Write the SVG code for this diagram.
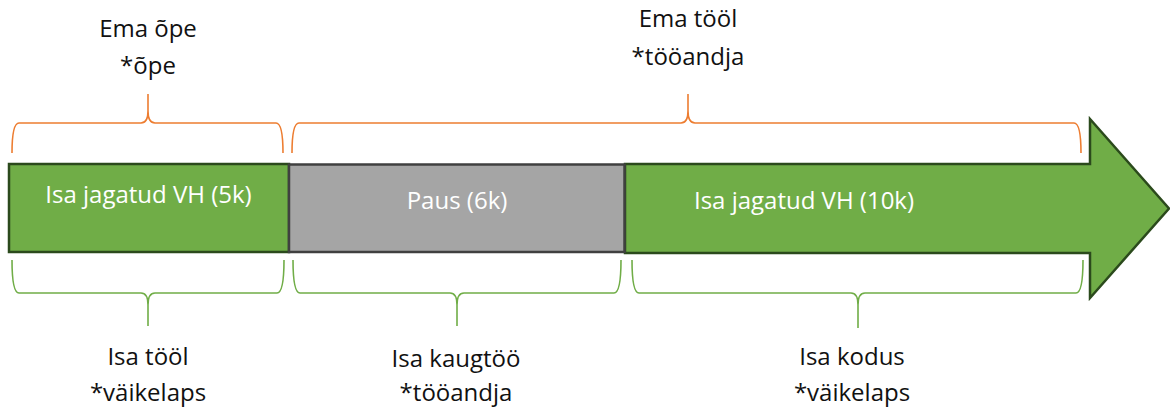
<svg xmlns="http://www.w3.org/2000/svg" width="1170" height="408" viewBox="0 0 1170 408">
<style>
  .lbl { font-family: "Open Sans", "Noto Sans", "DejaVu Sans", sans-serif; font-size: 24px; fill: #111111; text-anchor: middle; }
  .in { font-family: "Open Sans", "Noto Sans", "DejaVu Sans", sans-serif; font-size: 24px; fill: #ffffff; text-anchor: middle; }
  .ob { fill: none; stroke: #ed7d31; stroke-width: 1.6; }
  .gb { fill: none; stroke: #70ad47; stroke-width: 1.6; }
  .green { fill: #70ad47; stroke: #2b4a1c; stroke-width: 2.5; }
  .gray { fill: #a5a5a5; stroke: #404040; stroke-width: 2.5; }
</style>
<rect width="1170" height="408" fill="#ffffff"/>
<g id="timeline">
  <g id="seg3">
    <polygon class="green" points="625,164 1090,164 1090,119 1169,208.5 1090,298 1090,253 625,253"/>
    <text class="in" x="804" y="209">Isa jagatud VH (10k)</text>
  </g>
  <g id="seg1">
    <rect class="green" x="9" y="164" width="280" height="88"/>
    <text class="in" x="148.5" y="203">Isa jagatud VH (5k)</text>
  </g>
  <g id="seg2">
    <rect class="gray" x="289" y="164.5" width="335.5" height="87.5"/>
    <text class="in" x="457" y="209">Paus (6k)</text>
  </g>
</g>
<g id="braces">
  <path class="ob" d="M12,153 Q12,123 19,123 L141,123 Q148,123 148,111 L148,94 M148,111 Q148,123 155,123 L276,123 Q283,123 283,153"/>
  <path class="ob" d="M292,153 Q292,123 299,123 L681,123 Q688,123 688,111 L688,94 M688,111 Q688,123 695,123 L1074,123 Q1081,123 1081,153"/>
  <path class="gb" d="M12,260 Q12,293 19,293 L141,293 Q148,293 148,305 L148,326 M148,305 Q148,293 155,293 L277,293 Q284,293 284,260"/>
  <path class="gb" d="M293,260 Q293,293 300,293 L450,293 Q457,293 457,305 L457,326 M457,305 Q457,293 464,293 L614,293 Q621,293 621,260"/>
  <path class="gb" d="M632,260 Q632,293 639,293 L851,293 Q858,293 858,305 L858,328 M858,305 Q858,293 865,293 L1076,293 Q1083,293 1083,260"/>
</g>
<g id="labels">
  <g id="label-ema-ope">
    <text class="lbl" x="148" y="37">Ema õpe</text>
    <text class="lbl" x="148" y="74">*õpe</text>
  </g>
  <g id="label-ema-tool">
    <text class="lbl" x="688" y="27">Ema tööl</text>
    <text class="lbl" x="688" y="65">*tööandja</text>
  </g>
  <g id="label-isa-tool">
    <text class="lbl" x="148" y="365">Isa tööl</text>
    <text class="lbl" x="148" y="401">*väikelaps</text>
  </g>
  <g id="label-isa-kaugtoo">
    <text class="lbl" x="456" y="367">Isa kaugtöö</text>
    <text class="lbl" x="456" y="401">*tööandja</text>
  </g>
  <g id="label-isa-kodus">
    <text class="lbl" x="852" y="365">Isa kodus</text>
    <text class="lbl" x="852" y="401">*väikelaps</text>
  </g>
</g>
</svg>
